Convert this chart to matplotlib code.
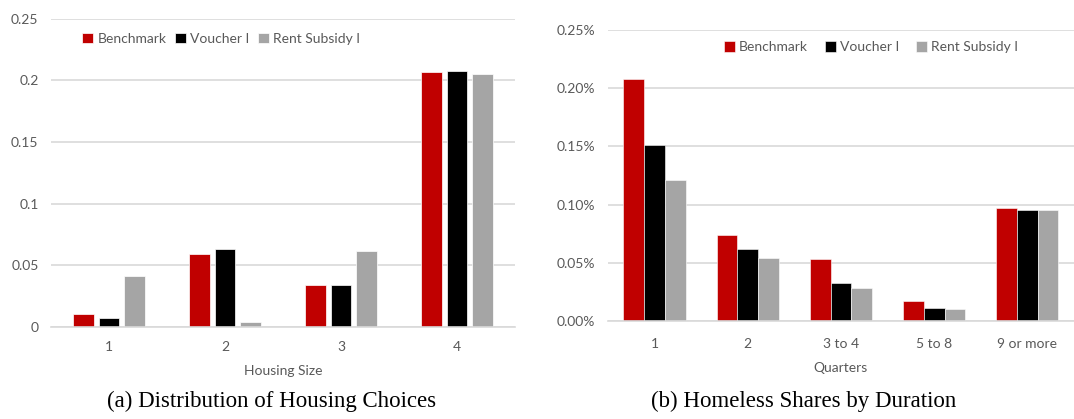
import numpy as np
import matplotlib.pyplot as plt
from matplotlib.ticker import FuncFormatter

plt.rcParams['font.family'] = ['Lato', 'DejaVu Sans']

# series names and colours
series = ['Benchmark', 'Voucher I', 'Rent Subsidy I']
colores = ['#C00000', '#000000', '#A5A5A5']

# panel (a): distribution of housing choices
tamanos = ['1', '2', '3', '4']
bench_a = [0.0105, 0.059, 0.034, 0.207]
voucher_a = [0.0073, 0.0634, 0.034, 0.2078]
rent_a = [0.0413, 0.004, 0.0612, 0.2047]

# panel (b): homeless shares by duration (in percent)
trimestres = ['1', '2', '3 to 4', '5 to 8', '9 or more']
bench_b = [0.2082, 0.0739, 0.053, 0.0169, 0.0971]
voucher_b = [0.1515, 0.0616, 0.0329, 0.0112, 0.0956]
rent_b = [0.1208, 0.0538, 0.0281, 0.0103, 0.0951]

gris_txt = '#595959'
gris_linea = '#D9D9D9'

fig = plt.figure(figsize=(10.74, 4.19), dpi=100)
ax1 = fig.add_axes([0.0475, 0.2196, 0.432, 0.7362])
ax2 = fig.add_axes([0.566, 0.2339, 0.434, 0.6945])


def estilo(ax):
    for s in ['top', 'right', 'left']:
        ax.spines[s].set_visible(False)
    ax.spines['bottom'].set_color(gris_linea)
    ax.spines['bottom'].set_linewidth(1.2)
    ax.grid(axis='y', color=gris_linea, linewidth=1.2)
    ax.set_axisbelow(True)
    ax.tick_params(length=0, colors=gris_txt, labelsize=10)
    ax.tick_params(axis='x', pad=10)
    ax.tick_params(axis='y', pad=9)


# panel (a)
x = np.arange(len(tamanos))
for i, (vals, c, nom) in enumerate(zip([bench_a, voucher_a, rent_a], colores, series)):
    ax1.bar(x + (i - 1) * 0.22, vals, width=0.175, color=c, label=nom,
            edgecolor='white', linewidth=0.5)
ax1.set_xlim(-0.5, 3.5)
ax1.set_ylim(0, 0.25)
ax1.set_yticks([0, 0.05, 0.1, 0.15, 0.2, 0.25])
ax1.set_yticklabels(['0', '0.05', '0.1', '0.15', '0.2', '0.25'])
ax1.set_xticks(x)
ax1.set_xticklabels(tamanos)
estilo(ax1)
ax1.set_xlabel('Housing Size', color=gris_txt, fontsize=10, labelpad=9)
ax1.legend(loc='upper left', bbox_to_anchor=(0.04, 0.995), ncol=3, frameon=False,
           fontsize=10, labelcolor=gris_txt, handlelength=0.8, handleheight=0.8,
           handletextpad=0.3, columnspacing=0.6)

# panel (b)
x = np.arange(len(trimestres))
for i, (vals, c, nom) in enumerate(zip([bench_b, voucher_b, rent_b], colores, series)):
    ax2.bar(x + (i - 1) * 0.222, vals, width=0.222, color=c, label=nom,
            edgecolor='white', linewidth=0.4)
ax2.set_xlim(-0.5, 4.5)
ax2.set_ylim(0, 0.25)
ax2.set_yticks([0, 0.05, 0.1, 0.15, 0.2, 0.25])
ax2.yaxis.set_major_formatter(FuncFormatter(lambda v, p: f'{v:.2f}%'))
ax2.set_xticks(x)
ax2.set_xticklabels(trimestres)
estilo(ax2)
ax2.tick_params(axis='x', pad=12)
ax2.set_xlabel('Quarters', color=gris_txt, fontsize=10, labelpad=9)
ax2.legend(loc='upper left', bbox_to_anchor=(0.222, 1.005), ncol=3, frameon=False,
           fontsize=10, labelcolor=gris_txt, handlelength=0.8, handleheight=0.8,
           handletextpad=0.3, columnspacing=1.2)

# captions
fig.text(0.253, 0.043, '(a) Distribution of Housing Choices', ha='center', va='center',
         family='Liberation Serif', fontsize=16.5)
fig.text(0.748, 0.043, '(b) Homeless Shares by Duration', ha='center', va='center',
         family='Liberation Serif', fontsize=16.5)

fig.savefig('out.png', dpi=100)
